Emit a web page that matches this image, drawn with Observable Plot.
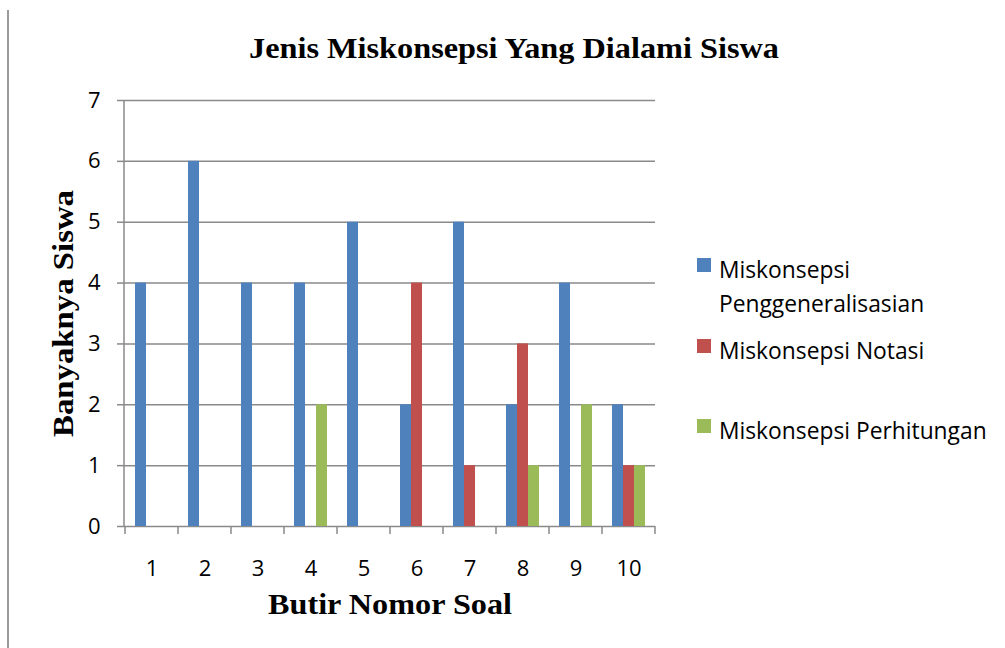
<!DOCTYPE html>
<html><head><meta charset="utf-8">
<script src="https://cdn.jsdelivr.net/npm/d3@7"></script>
<script src="https://cdn.jsdelivr.net/npm/@observablehq/plot@0.6"></script>
<style>
body{margin:0;background:#fff}
#c{position:relative;width:1005px;height:648px;overflow:hidden}
</style>
</head><body><div id="c"></div>
<script>
const soal = ["1","2","3","4","5","6","7","8","9","10"];
const seriesNames = ["Miskonsepsi Penggeneralisasian","Miskonsepsi Notasi","Miskonsepsi Perhitungan"];
const legendLines = [["Miskonsepsi","Penggeneralisasian"],["Miskonsepsi Notasi"],["Miskonsepsi Perhitungan"]];
const penggeneralisasian = [4,6,4,4,5,2,5,2,4,2];
const notasi = [0,0,0,0,0,4,1,3,0,1];
const perhitungan = [0,0,0,2,0,0,0,1,2,1];
const yTicks = [0,1,2,3,4,5,6,7];
const colors = ["#4F81BD","#C0504D","#9BBB59"];
const title = "Jenis Miskonsepsi Yang Dialami Siswa";
const xLabel = "Butir Nomor Soal";
const yLabel = "Banyaknya Siswa";

const seriesValues = [penggeneralisasian, notasi, perhitungan];
const data = [];
soal.forEach((s, i) => seriesNames.forEach((n, j) => data.push({soal: s, series: n, value: seriesValues[j][i]})));

const W = 1005, H = 648, mL = 124, mR = 350, mT = 100, mB = 122;
const gridColor = "#8a8a8a";
const sans = "'Open Sans', Lato, sans-serif";
const serif = "'Liberation Serif', 'Times New Roman', serif";

const plot = Plot.plot({
  width: W, height: H,
  marginLeft: mL, marginRight: mR, marginTop: mT, marginBottom: mB,
  style: {fontFamily: sans, fontSize: "22px", background: "#fff", color: "#000", overflow: "visible"},
  fx: {domain: soal, padding: 0, label: null, axis: null},
  x: {domain: seriesNames, paddingInner: 0, paddingOuter: 0.71, axis: null},
  y: {domain: [0, 7], axis: null},
  color: {domain: seriesNames, range: colors},
  marks: [
    Plot.ruleY(yTicks, {stroke: gridColor, strokeWidth: 1.5}),
    Plot.barY(data, {fx: "soal", x: "series", y: "value", fill: "series"}),
    Plot.axisY(yTicks, {tickSize: 8, tickPadding: 17, stroke: gridColor, strokeWidth: 1.5, fontSize: 22, label: null, tickFormat: d => d}),
    Plot.axisFx({anchor: "bottom", tickSize: 0, tickPadding: 34, fontSize: 22, label: null})
  ]
});

const svg = d3.select(plot);
const fx = plot.scale("fx");
const y = plot.scale("y");
const bw = fx.bandwidth;
const y0 = y.apply(0), y7 = y.apply(7);
const g = svg.append("g").attr("text-anchor", "start");

// y axis line
g.append("line").attr("x1", mL).attr("x2", mL).attr("y1", y7).attr("y2", y0)
  .attr("stroke", gridColor).attr("stroke-width", 1.5);
// x axis boundary ticks
const bounds = soal.map(s => fx.apply(s)).concat([fx.apply(soal[soal.length - 1]) + bw]);
g.selectAll("line.bt").data(bounds).join("line").attr("class", "bt")
  .attr("x1", d => d).attr("x2", d => d).attr("y1", y0).attr("y2", y0 + 8)
  .attr("stroke", gridColor).attr("stroke-width", 1.5);

// title
g.append("text").attr("x", 249).attr("y", 58).attr("text-anchor", "start")
  .attr("textLength", 530).attr("lengthAdjust", "spacingAndGlyphs")
  .attr("font-family", serif).attr("font-weight", "bold").attr("font-size", 29).text(title);
// x label
g.append("text").attr("x", 268).attr("y", 614).attr("text-anchor", "start")
  .attr("textLength", 244).attr("lengthAdjust", "spacingAndGlyphs")
  .attr("font-family", serif).attr("font-weight", "bold").attr("font-size", 29).text(xLabel);
// y label
g.append("text").attr("transform", "translate(73,437) rotate(-90)").attr("text-anchor", "start")
  .attr("textLength", 247).attr("lengthAdjust", "spacingAndGlyphs")
  .attr("font-family", serif).attr("font-weight", "bold").attr("font-size", 29).text(yLabel);

// legend
const legendTop = [258, 339, 419];
const lg = g.append("g");
seriesNames.forEach((n, i) => {
  lg.append("rect").attr("x", 697).attr("y", legendTop[i]).attr("width", 14).attr("height", 14).attr("fill", colors[i]);
  const t = lg.append("text").attr("x", 719).attr("y", legendTop[i] + 20).attr("text-anchor", "start")
    .attr("font-family", sans).attr("font-size", 22.8).attr("fill", "#000");
  legendLines[i].forEach((line, k) => t.append("tspan").attr("x", 719).attr("dy", k === 0 ? 0 : 34).text(line));
});

const c = document.getElementById("c");
c.appendChild(plot);
// page border line at left
const border = document.createElement("div");
border.style.cssText = "position:absolute;left:7px;top:10px;width:2px;height:640px;background:#9a9a9a";
c.appendChild(border);
</script>
</body></html>
